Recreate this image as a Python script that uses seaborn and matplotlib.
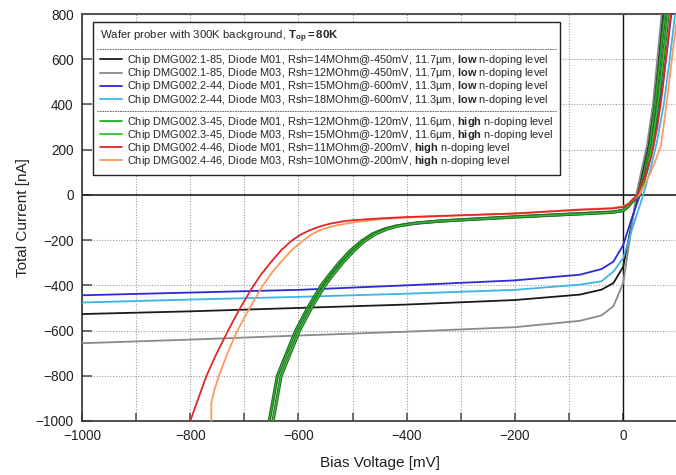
import numpy as np
import pandas as pd
import seaborn as sns
import matplotlib
matplotlib.use("Agg")
from matplotlib import pyplot as plt
from matplotlib.lines import Line2D
import matplotlib.patheffects as pe

# ---- data (bias in mV, current in nA) ----
black_v = [-1000, -800, -600, -400, -200, -80, -40, -18, 0, 13, 26, 36, 46, 57, 65, 73]
black_i = [-527, -515, -500, -485, -465, -441, -419, -390, -318, -160, 0, 110, 220, 400, 600, 800]

gray_v = [-1000, -800, -600, -400, -200, -80, -40, -18, 0, 12, 24, 34, 44, 55, 63, 71]
gray_i = [-656, -640, -622, -605, -585, -557, -533, -492, -390, -200, 0, 110, 220, 400, 600, 800]

blue_v = [-1000, -800, -600, -400, -200, -80, -40, -18, 0, 15, 31, 45, 57, 68, 79, 89]
blue_i = [-444, -432, -420, -400, -378, -353, -328, -295, -222, -110, 0, 110, 230, 400, 600, 800]

cyan_v = [-1000, -800, -600, -400, -200, -80, -40, -18, 0, 18, 37, 50, 62, 75, 86, 96]
cyan_i = [-476, -463, -451, -437, -420, -397, -382, -339, -280, -140, 0, 110, 230, 400, 600, 800]

green1_v = [-654, -639, -622, -605, -583, -558, -542, -525, -505, -484, -463, -440, -420, -400, -380, -340,
            -300, -200, -80, -20, 0, 10, 18, 28, 38, 49, 59, 68, 77]
green1_i = [-1000, -800, -700, -600, -500, -400, -350, -300, -248, -205, -172, -150, -138, -130, -124, -116,
            -110, -97, -83, -76, -69, -50, -26, 0, 90, 210, 400, 600, 800]

green2_v = [-647, -632, -615, -598, -576, -551, -535, -518, -498, -478, -457, -435, -416, -397, -378, -340,
            -300, -200, -80, -20, 0, 10, 18, 30, 41, 53, 64, 74, 83]
green2_i = [-1000, -800, -700, -600, -500, -400, -350, -300, -248, -205, -172, -150, -138, -130, -124, -116,
            -111, -98, -84, -77, -69, -48, -24, 0, 90, 210, 400, 600, 800]

red_v = [-800, -785, -770, -751, -730, -710, -688, -670, -650, -632, -614, -597, -580, -562, -543, -520,
         -500, -450, -400, -300, -200, -80, -20, 0, 10, 18, 26, 40, 52, 63, 72, 80, 88]
red_i = [-1000, -900, -800, -700, -600, -510, -420, -355, -295, -245, -205, -177, -157, -141, -128, -118,
         -112, -104, -98, -90, -82, -66, -60, -54, -40, -19, 0, 80, 170, 300, 450, 620, 800]

orange_v = [-761, -761, -755, -747, -731, -713, -690, -667, -648, -630, -612, -593, -578, -562, -546, -530,
            -500, -450, -400, -300, -200, -80, -20, 0, 10, 18, 30, 45, 58, 70, 80, 90, 100]
orange_i = [-1000, -920, -860, -800, -700, -600, -500, -405, -340, -290, -243, -205, -178, -158, -145, -135,
            -122, -108, -100, -91, -83, -64, -58, -50, -38, -17, 0, 70, 140, 220, 400, 600, 790]

labels = [
    "Chip DMG002.1-85, Diode M01, Rsh=14MOhm@-450mV, 11.7µm, $\\bf{low}$ n-doping level",
    "Chip DMG002.1-85, Diode M03, Rsh=12MOhm@-450mV, 11.7µm, $\\bf{low}$ n-doping level",
    "Chip DMG002.2-44, Diode M01, Rsh=15MOhm@-600mV, 11.3µm, $\\bf{low}$ n-doping level",
    "Chip DMG002.2-44, Diode M03, Rsh=18MOhm@-600mV, 11.3µm, $\\bf{low}$ n-doping level",
    "Chip DMG002.3-45, Diode M01, Rsh=12MOhm@-120mV, 11.6µm, $\\bf{high}$ n-doping level",
    "Chip DMG002.3-45, Diode M03, Rsh=15MOhm@-120mV, 11.6µm, $\\bf{high}$ n-doping level",
    "Chip DMG002.4-46, Diode M01, Rsh=11MOhm@-200mV, $\\bf{high}$ n-doping level",
    "Chip DMG002.4-46, Diode M03, Rsh=10MOhm@-200mV, $\\bf{high}$ n-doping level",
]
colors = ["#1a1a1a", "#8a8a8a", "#2a2ad8", "#3cb4e6", "#22b022", "#30c030", "#e02828", "#ff9a5a"]
curves = [(black_v, black_i), (gray_v, gray_i), (blue_v, blue_i), (cyan_v, cyan_i),
          (green1_v, green1_i), (green2_v, green2_i), (red_v, red_i), (orange_v, orange_i)]

sns.set_style("ticks")
plt.rcParams["font.family"] = ["Liberation Sans", "DejaVu Sans"]
plt.rcParams["mathtext.fontset"] = "custom"
plt.rcParams["mathtext.rm"] = "Liberation Sans"
plt.rcParams["mathtext.bf"] = "Liberation Sans:bold"
plt.rcParams["mathtext.it"] = "Liberation Sans:italic"

fig = plt.figure(figsize=(6.76, 4.75), dpi=100)
ax = fig.add_axes([82 / 676, 54 / 475, 595.3 / 676, 407 / 475])

ax.axhline(0, color="#222222", lw=1.2, zorder=1.5)
ax.axvline(0, color="#111111", lw=1.0, zorder=1.5)

# draw order: greens under the others like in the original
order = [0, 1, 2, 3, 4, 5, 7, 6]
for k in order:
    v, i = curves[k]
    df = pd.DataFrame({"V": v, "I": i})
    sns.lineplot(data=df, x="V", y="I", ax=ax, color=colors[k], lw=1.3,
                 estimator=None, sort=False, legend=False, zorder=3)
    if k in (4, 5):
        ax.lines[-1].set_path_effects([pe.Stroke(linewidth=2.3, foreground="#2a662a"), pe.Normal()])
        ax.lines[-1].set_linewidth(1.0)

ax.set_xlim(-1000, 100)
ax.set_ylim(-1000, 800)
ax.set_xticks(np.arange(-1000, 1, 200))
ax.set_xticks(np.arange(-900, 101, 100), minor=True)
ax.set_yticks(np.arange(-1000, 801, 200))
ax.grid(which="both", linestyle=(0, (1, 1.5)), color="#9a9a9a", lw=0.8, zorder=1)
ax.tick_params(which="both", direction="in", length=7, width=1.2, color="#555555",
               labelsize=9.8, pad=6, labelcolor="#222222")
ax.tick_params(axis="x", which="both", length=6)
for s in ax.spines.values():
    s.set_color("#555555")
    s.set_linewidth(1.5)
ax.spines["left"].set_color("#333333")
ax.spines["left"].set_linewidth(1.2)
ax.spines["bottom"].set_color("#333333")
ax.spines["bottom"].set_linewidth(1.2)

ax.set_xlabel("Bias Voltage [mV]", fontsize=11, labelpad=9, color="#222222")
ax.set_ylabel("Total Current [nA]", fontsize=11, labelpad=4, color="#222222")

# legend with spacer rows for the dashed separators
blank = Line2D([], [], color="none")
handles = [blank] + [Line2D([], [], color=c, lw=1.3) for c in colors[:4]] + [blank] + \
          [Line2D([], [], color=c, lw=1.3) for c in colors[4:]]
hlabels = [" "] + labels[:4] + [" "] + labels[4:]
leg = ax.legend(handles, hlabels, loc="upper left", bbox_to_anchor=(11 / 595.3, 399 / 407),
                borderaxespad=0, fontsize=7.9, title_fontsize=8.2, alignment="left",
                title="Wafer prober with 300K background, $\\bf{T_{op}}$$\\bf{=80K}$",
                frameon=True, fancybox=False, edgecolor="#222222", framealpha=1,
                handlelength=2.0, handletextpad=0.5, labelspacing=-0.08, borderpad=0.6)
leg.get_frame().set_linewidth(1.0)
leg.set_zorder(10)

fig.canvas.draw()
fb = leg.get_frame().get_window_extent()
inv = fig.transFigure.inverted()
for idx in (0, 5):
    tb = leg.get_texts()[idx].get_window_extent()
    yc = (tb.y0 + tb.y1) / 2
    x0, y0 = inv.transform((fb.x0 + 4, yc))
    x1, _ = inv.transform((fb.x1 - 4, yc))
    fig.add_artist(Line2D([x0, x1], [y0, y0], transform=fig.transFigure, color="#555555",
                          lw=0.6, linestyle=(0, (2, 1)), zorder=11))

fig.savefig("out.png", dpi=100)
